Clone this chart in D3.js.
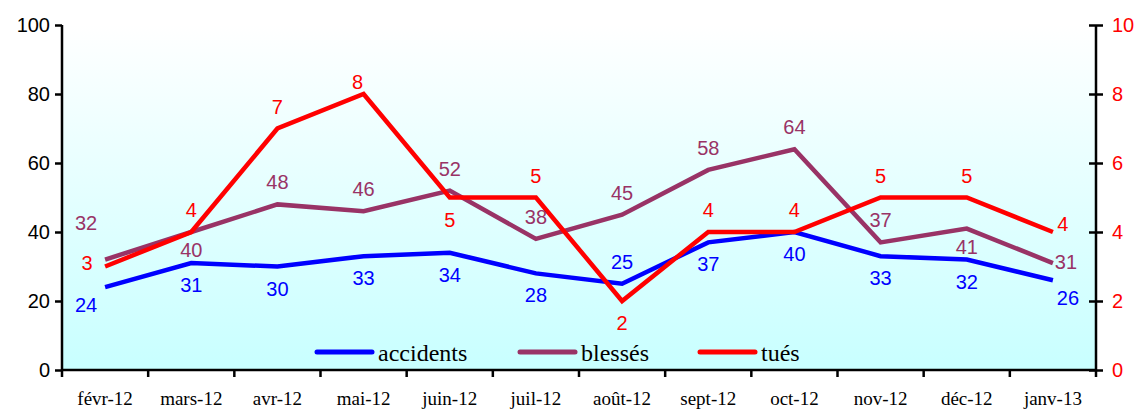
<!DOCTYPE html>
<html><head><meta charset="utf-8">
<script src="https://cdn.jsdelivr.net/npm/d3@7"></script>
<style>body{margin:0;background:#fff}svg{display:block}
text.leg{font-family:"Liberation Serif",serif !important}
</style>
</head><body>
<script>
const categories = ["févr-12","mars-12","avr-12","mai-12","juin-12","juil-12","août-12","sept-12","oct-12","nov-12","déc-12","janv-13"];
const accidents = [24,31,30,33,34,28,25,37,40,33,32,26];
const blesses = [32,40,48,46,52,38,45,58,64,37,41,31];
const tues = [3,4,7,8,5,5,2,4,4,5,5,4];
const leftTicks = [0,20,40,60,80,100];
const rightTicks = [0,2,4,6,8,10];
const seriesNames = ["accidents","blessés","tués"];
// label placement codes
const accPos = ["lb","b","b","b","b","b","a","b","b","b","b","rb"];
const blePos = ["la","bn","a","a","a","a","a","a","a","a","bn","r"];
const tuePos = ["l","a","a","an","b","a","b","a","a","a","a","ar"];
const offsets = {a:[0,-22], b:[0,22], bn:[0,18], an:[-6,-12], ar:[10,-8], la:[-19,-37], lb:[-19,18], rb:[15,18], l:[-18,-4], r:[13,-1]};

const W = 1138, H = 410;
const m = {l:62, r:42, t:25, b:40};
const svg = d3.select("body").append("svg").attr("width",W).attr("height",H);
const defs = svg.append("defs");
const grad = defs.append("linearGradient").attr("id","bg").attr("x1",0).attr("x2",0).attr("y1",0).attr("y2",1);
grad.append("stop").attr("offset","0%").attr("stop-color","#ffffff");
grad.append("stop").attr("offset","100%").attr("stop-color","#c8ffff");

const x = d3.scaleBand().domain(categories).range([m.l, W-m.r]);
const yL = d3.scaleLinear().domain([0,100]).range([H-m.b, m.t]);
const yR = d3.scaleLinear().domain([0,10]).range([H-m.b, m.t]);

svg.append("rect").attr("x",m.l).attr("y",m.t).attr("width",W-m.r-m.l).attr("height",H-m.b-m.t).attr("fill","url(#bg)");

const SANS = "'Liberation Sans', Arial, sans-serif";
const SERIF = "'Liberation Serif', 'Times New Roman', serif";

// axes
const axL = svg.append("g").attr("transform",`translate(${m.l},0)`)
  .call(d3.axisLeft(yL).tickValues(leftTicks).tickSize(7).tickPadding(5));
axL.selectAll("text").style("font-family",SANS).attr("font-size",20).attr("fill","#000");
const axR = svg.append("g").attr("transform",`translate(${W-m.r},0)`)
  .call(d3.axisRight(yR).tickValues(rightTicks).tickSize(7).tickPadding(9));
axR.selectAll(".tick line").attr("x1",-7);
axR.selectAll("text").style("font-family",SANS).attr("font-size",20).attr("fill","#ff0000");
const axB = svg.append("g").attr("transform",`translate(0,${H-m.b})`)
  .call(d3.axisBottom(x).tickSize(7).tickPadding(15));
axB.selectAll(".tick line").attr("transform",`translate(${-x.bandwidth()/2},0)`);
axB.append("line").attr("x1",W-m.r).attr("x2",W-m.r).attr("y1",0).attr("y2",7).attr("stroke","#000").attr("stroke-width",2.5);
axB.selectAll("text").style("font-family",SERIF).attr("font-size",19).attr("fill","#000");
[axL,axR,axB].forEach(a=>{a.attr("font-family",null);a.selectAll("path").attr("stroke","#000").attr("stroke-width",2.5);a.selectAll(".tick line").attr("stroke","#000").attr("stroke-width",2.5);});
axB.select("path").attr("d",`M${m.l},0H${W-m.r}`);
axL.select("path").attr("d",`M0,${m.t}V${H-m.b}`);
axR.select("path").attr("d",`M0,${m.t}V${H-m.b}`);

const cx = c => x(c) + x.bandwidth()/2;
const series = [
  {name:seriesNames[0], vals:accidents, y:yL, color:"#0000ff", pos:accPos},
  {name:seriesNames[1], vals:blesses, y:yL, color:"#993366", pos:blePos},
  {name:seriesNames[2], vals:tues, y:yR, color:"#ff0000", pos:tuePos}
];
series.forEach(s=>{
  const line = d3.line().x((d,i)=>cx(categories[i])).y(d=>s.y(d));
  svg.append("path").attr("d",line(s.vals)).attr("fill","none").attr("stroke",s.color).attr("stroke-width",4.5).attr("stroke-linejoin","miter");
});
series.forEach(s=>{
  svg.append("g").selectAll("text").data(s.vals).join("text")
    .style("font-family",SANS)
    .attr("x",(d,i)=>cx(categories[i]) + offsets[s.pos[i]][0])
    .attr("y",(d,i)=>s.y(d) + offsets[s.pos[i]][1] + 7)
    .attr("text-anchor","middle").attr("font-size",20)
    .attr("fill",s.color).text(d=>d);
});

// legend
const legX = [317,520,700];
const legG = svg.append("g").attr("font-family","Liberation Serif");
series.forEach((s,i)=>{
  const lx = legX[i];
  legG.append("line").attr("x1",lx).attr("x2",lx+55).attr("y1",352).attr("y2",352).attr("stroke",s.color).attr("stroke-width",5).attr("stroke-linecap","round");
  legG.append("text").attr("class","leg").attr("font-family","Liberation Serif").attr("x",lx+61).attr("y",361).attr("font-size",24).attr("fill","#000").text(s.name);
});
</script>
</body></html>
